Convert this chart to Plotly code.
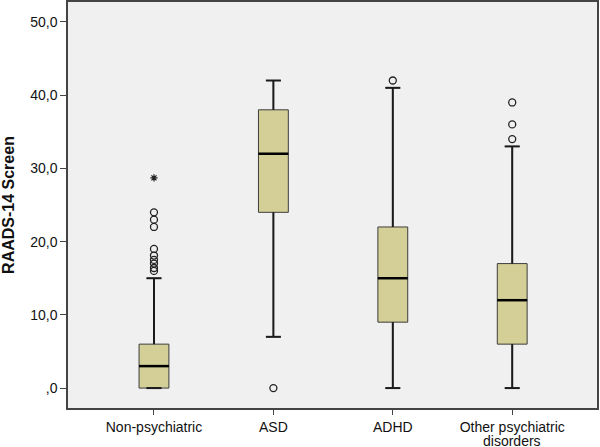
import plotly.graph_objects as go

categories = ["Non-psychiatric", "ASD", "ADHD", "Other psychiatric"]
category_second_line = ["", "", "", "disorders"]
q1 = [0, 24, 9, 6]
median = [3, 32, 15, 12]
q3 = [6, 38, 22, 17]
lower_fence = [0, 7, 0, 0]
upper_fence = [15, 42, 41, 33]

# outliers (circles) and extremes (stars): (category index, value)
outlier_cat = [0, 0, 0, 0, 0, 0, 0, 0, 0, 1, 2, 3, 3, 3]
outlier_val = [24, 23, 22, 19, 18.1, 17.5, 17.0, 16.4, 16.0, 0, 42, 39, 36, 34]
extreme_cat = [0]
extreme_val = [28.7]

ytick_vals = [0, 10, 20, 30, 40, 50]
ytick_text = [",0", "10,0", "20,0", "30,0", "40,0", "50,0"]

pos = list(range(len(categories)))
box_w = 0.25
cap_half = box_w / 4

fig = go.Figure()
fig.add_trace(go.Box(
    x=pos, q1=q1, median=median, q3=q3,
    lowerfence=lower_fence, upperfence=upper_fence,
    width=box_w, whiskerwidth=0.5,
    fillcolor="#D4CF97", line=dict(color="#3c3c3c", width=1),
    boxpoints=False, showlegend=False, hoverinfo="skip",
))

# whiskers, caps, medians (thicker lines)
wx, wy = [], []
for i in pos:
    wx += [i, i, None, i, i, None]
    wy += [q3[i], upper_fence[i], None, lower_fence[i], q1[i], None]
    wx += [i - cap_half, i + cap_half, None, i - cap_half, i + cap_half, None]
    wy += [upper_fence[i], upper_fence[i], None, lower_fence[i], lower_fence[i], None]
fig.add_trace(go.Scatter(x=wx, y=wy, mode="lines",
                         line=dict(color="#1a1a1a", width=2),
                         showlegend=False, hoverinfo="skip"))
mx, my = [], []
for i in pos:
    mx += [i - box_w / 2, i + box_w / 2, None]
    my += [median[i], median[i], None]
fig.add_trace(go.Scatter(x=mx, y=my, mode="lines",
                         line=dict(color="#000000", width=2.5),
                         showlegend=False, hoverinfo="skip"))

fig.add_trace(go.Scatter(
    x=outlier_cat, y=outlier_val, mode="markers",
    marker=dict(symbol="circle-open", size=7, color="#222222", line=dict(width=1.3)),
    showlegend=False, hoverinfo="skip"))
fig.add_trace(go.Scatter(
    x=extreme_cat, y=extreme_val, mode="markers",
    marker=dict(symbol="asterisk-open", size=6, color="#222222", line=dict(width=1.2, color="#222222")),
    showlegend=False, hoverinfo="skip"))

for i, t in enumerate(category_second_line):
    if t:
        fig.add_annotation(x=pos[i], y=0, xref="x", yref="paper", text=t,
                           showarrow=False, yanchor="middle", yshift=-33, borderpad=0,
                           font=dict(size=14, family="Liberation Sans, Arial", color="#111111"))

fig.update_layout(
    width=600, height=447,
    margin=dict(l=68, r=3, t=2, b=39),
    paper_bgcolor="white", plot_bgcolor="#F0F0F0",
    font=dict(family="Liberation Sans, Arial", size=14, color="#111111"),
)
fig.update_xaxes(
    range=[-0.72, 3.71], tickmode="array", tickvals=pos, ticktext=categories,
    ticks="outside", ticklen=5, tickcolor="#444444", tickwidth=1,
    showgrid=False, zeroline=False, mirror=True, showline=True, automargin=False,
    linecolor="#444444", linewidth=1.5, tickfont=dict(size=14),
)
fig.update_yaxes(
    range=[-2.72, 52.72], tickmode="array", tickvals=ytick_vals, ticktext=ytick_text,
    ticks="outside", ticklen=6, tickcolor="#444444", tickwidth=1,
    showgrid=False, zeroline=False, mirror=True, showline=True, automargin=False,
    linecolor="#444444", linewidth=1.5, tickfont=dict(size=14),
    title=dict(text="<b>RAADS-14 Screen</b>", font=dict(size=16), standoff=12),
)
fig.write_html("out.html", config={"displayModeBar": False},
               post_script="document.body.style.margin='0';")
